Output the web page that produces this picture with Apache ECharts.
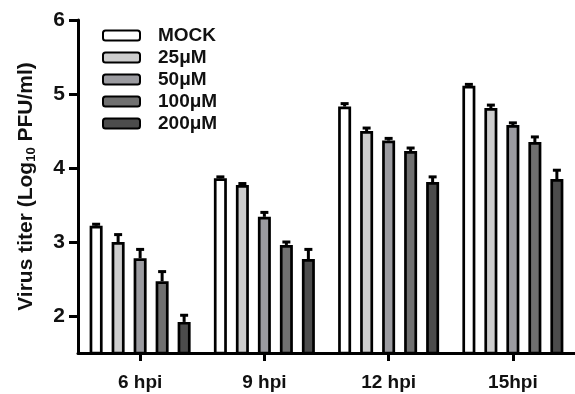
<!DOCTYPE html>
<html>
<head>
<meta charset="utf-8">
<script src="https://cdn.jsdelivr.net/npm/echarts@6/dist/echarts.min.js"></script>
<style>
  html, body { margin: 0; padding: 0; background: #fff; }
  #chart { width: 575px; height: 394px; }
</style>
</head>
<body>
<div id="chart"></div>
<script>
let categories = ['6 hpi', '9 hpi', '12 hpi', '15hpi'];
let groups = ['MOCK', '25μM', '50μM', '100μM', '200μM'];
let colors = ['#ffffff', '#cdcdcd', '#9b9ba0', '#707070', '#4c4c4c'];

// mean log10 titer per group, one value per time point
let mock = [3.22, 3.86, 4.83, 5.11];
let c25 = [3.00, 3.77, 4.50, 4.81];
let c50 = [2.78, 3.34, 4.37, 4.58];
let c100 = [2.47, 2.96, 4.23, 4.35];
let c200 = [1.92, 2.77, 3.81, 3.85];

// error bar heights (SD)
let mockErr = [0.02, 0.02, 0.04, 0.02];
let c25Err = [0.10, 0.02, 0.04, 0.04];
let c50Err = [0.12, 0.06, 0.03, 0.03];
let c100Err = [0.13, 0.04, 0.04, 0.07];
let c200Err = [0.09, 0.13, 0.07, 0.12];

let means = [mock, c25, c50, c100, c200];
let errs = [mockErr, c25Err, c50Err, c100Err, c200Err];

let chart = echarts.init(document.getElementById('chart'));

let font = 'Liberation Sans, Arial, sans-serif';
let barW = 13;
let pitch = 22;

let series = [];
for (let i = 0; i < groups.length; i++) {
    series.push({
        name: groups[i],
        type: 'bar',
        data: means[i],
        barWidth: barW,
        barGap: ((pitch - barW) / barW * 100) + '%',
        itemStyle: { color: colors[i], borderColor: '#000', borderWidth: 2.7 },
        z: 2
    });
}

// error bars drawn on top of each bar
let errData = [];
for (let i = 0; i < groups.length; i++) {
    for (let j = 0; j < categories.length; j++) {
        errData.push([j, i, means[i][j], errs[i][j]]);
    }
}
series.push({
    type: 'custom',
    name: 'err',
    data: errData,
    encode: { x: 0, y: 2 },
    z: 3,
    renderItem: function (params, api) {
        let cat = api.value(0);
        let gi = api.value(1);
        let top = api.coord([cat, api.value(2) + api.value(3)]);
        let base = api.coord([cat, api.value(2)]);
        let x = top[0] + (gi - 2) * pitch;
        return {
            type: 'group',
            children: [
                { type: 'line', shape: { x1: x, y1: base[1], x2: x, y2: top[1] },
                  style: { stroke: '#000', lineWidth: 3 } },
                { type: 'line', shape: { x1: x - 4, y1: top[1], x2: x + 4, y2: top[1] },
                  style: { stroke: '#000', lineWidth: 3 } }
            ]
        };
    }
});

let option = {
    animation: false,
    backgroundColor: '#fff',
    grid: { left: 78, right: 0, top: 20, bottom: 41 },
    legend: {
        data: groups,
        orient: 'vertical',
        left: 102,
        top: 26,
        padding: 0,
        itemWidth: 37,
        itemHeight: 10,
        itemGap: 3,
        icon: 'roundRect',
        textStyle: {
            fontFamily: font, fontWeight: 'bold', fontSize: 19, lineHeight: 16, color: '#111',
            padding: [0, 0, 0, 13]
        }
    },
    xAxis: {
        type: 'category',
        data: categories,
        axisLine: { lineStyle: { color: '#000', width: 3 } },
        axisTick: { show: true, alignWithLabel: true, length: 8, lineStyle: { color: '#000', width: 3 } },
        axisLabel: { margin: 20, fontFamily: font, fontWeight: 'bold', fontSize: 19, color: '#111' }
    },
    yAxis: {
        type: 'value',
        min: 1.5,
        max: 6,
        splitNumber: 4,
        splitLine: { show: false },
        axisLine: { show: true, lineStyle: { color: '#000', width: 3 } },
        axisTick: { show: true, length: 9, lineStyle: { color: '#000', width: 3 } },
        axisLabel: {
            margin: 13, fontFamily: font, fontWeight: 'bold', fontSize: 21, color: '#111',
            showMinLabel: false
        },
        name: 'Virus titer (Log{sub|10} PFU/ml)',
        nameLocation: 'middle',
        nameRotate: 90,
        nameGap: 40,
        nameTextStyle: {
            fontFamily: font, fontWeight: 'bold', fontSize: 21, color: '#111',
            rich: {
                sub: { fontFamily: font, fontWeight: 'bold', fontSize: 13, color: '#111', verticalAlign: 'bottom', padding: [10, 0, 0, 0] }
            }
        }
    },
    series: series
};

chart.setOption(option);
</script>
</body>
</html>
